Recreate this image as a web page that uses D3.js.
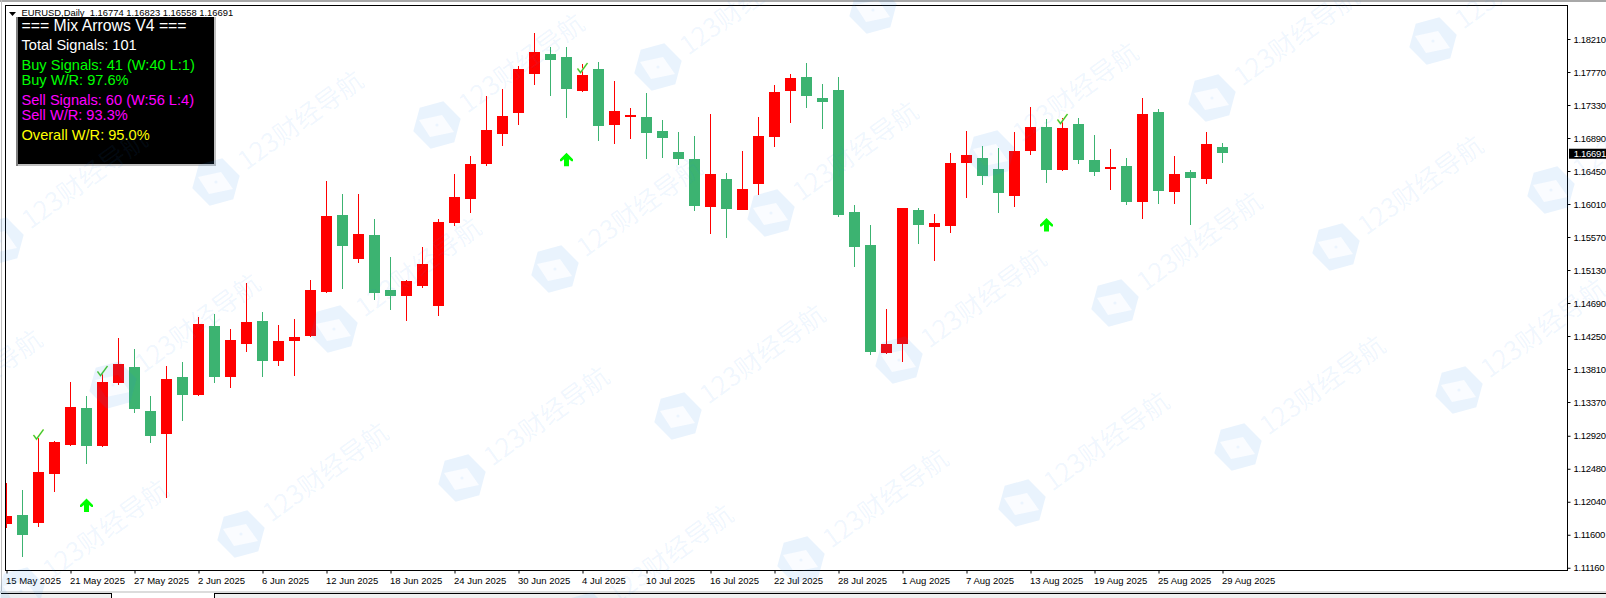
<!DOCTYPE html>
<html><head><meta charset="utf-8">
<style>html,body{margin:0;padding:0;background:#fff;overflow:hidden}svg{display:block}</style>
<script src="https://cdn.jsdelivr.net/npm/d3@7/dist/d3.min.js"></script></head><body><div id="c"></div>
<script>
const opens=[1.11743,1.11863,1.11757,1.1241,1.12797,1.1329,1.12783,1.13623,1.13837,1.1325,1.12943,1.13703,1.13463,1.14383,1.13703,1.14143,1.1445,1.13917,1.14183,1.1425,1.14837,1.15863,1.15277,1.15597,1.14863,1.14783,1.14917,1.1465,1.15757,1.16077,1.16543,1.16943,1.17223,1.17743,1.1801,1.1797,1.17517,1.1781,1.17063,1.1717,1.1717,1.16983,1.16703,1.1661,1.1597,1.16343,1.1593,1.16277,1.16903,1.17517,1.17703,1.17423,1.1753,1.15903,1.15463,1.14023,1.14143,1.1593,1.15703,1.15717,1.16557,1.16623,1.16477,1.16117,1.16717,1.17037,1.16463,1.17077,1.16597,1.16477,1.16517,1.16037,1.17237,1.1617,1.16437,1.16343,1.16774];
const highs=[1.12286,1.12197,1.12886,1.1285,1.13637,1.1345,1.13757,1.14223,1.14077,1.1345,1.1385,1.13903,1.14503,1.14543,1.14343,1.14957,1.1457,1.14397,1.14477,1.14997,1.16317,1.16143,1.16143,1.1581,1.15303,1.14997,1.15437,1.1581,1.1641,1.1665,1.1745,1.17543,1.1785,1.1829,1.18103,1.18103,1.17877,1.17903,1.1765,1.1729,1.1749,1.1713,1.1697,1.16917,1.1721,1.16423,1.16717,1.1717,1.17597,1.17743,1.1789,1.1761,1.17703,1.15997,1.1573,1.1461,1.15957,1.15957,1.15877,1.1669,1.16983,1.16783,1.16757,1.1697,1.17303,1.17143,1.17157,1.17157,1.1693,1.16743,1.16623,1.17423,1.17277,1.1665,1.16463,1.1697,1.16823];
const lows=[1.11694,1.11307,1.11707,1.1217,1.12783,1.12543,1.1277,1.13597,1.13223,1.12823,1.1209,1.13117,1.1345,1.13623,1.13557,1.14037,1.13703,1.1385,1.13717,1.14237,1.14823,1.14877,1.15223,1.1473,1.14597,1.1445,1.1489,1.14517,1.15717,1.1589,1.16517,1.16783,1.17063,1.17597,1.1745,1.17157,1.17503,1.1685,1.1681,1.16877,1.1661,1.16623,1.1653,1.15917,1.1561,1.15557,1.1593,1.1613,1.1677,1.1709,1.1729,1.1701,1.15837,1.1517,1.13997,1.1401,1.13903,1.15477,1.1525,1.15623,1.1609,1.16263,1.1589,1.1597,1.16663,1.1629,1.1645,1.16543,1.16383,1.16197,1.15997,1.1581,1.1601,1.1601,1.1573,1.16277,1.16558];
const closes=[1.1185,1.11597,1.12437,1.12837,1.13303,1.12783,1.13637,1.13877,1.13277,1.12917,1.13677,1.13463,1.1441,1.13703,1.14197,1.14437,1.13917,1.14183,1.14237,1.14863,1.1585,1.1545,1.1561,1.14823,1.14783,1.14983,1.1521,1.1577,1.16103,1.16543,1.16997,1.17183,1.1781,1.18037,1.1793,1.17543,1.1773,1.1705,1.1725,1.17197,1.16957,1.1689,1.1661,1.15983,1.1641,1.15943,1.1621,1.16917,1.17503,1.1769,1.1745,1.1737,1.15863,1.15437,1.14037,1.14143,1.15957,1.1573,1.15757,1.16557,1.16663,1.16383,1.16157,1.16717,1.17037,1.16463,1.17023,1.16597,1.16437,1.16503,1.16037,1.1721,1.16183,1.1641,1.16357,1.1681,1.16691];
const dateLabels=["15 May 2025","21 May 2025","27 May 2025","2 Jun 2025","6 Jun 2025","12 Jun 2025","18 Jun 2025","24 Jun 2025","30 Jun 2025","4 Jul 2025","10 Jul 2025","16 Jul 2025","22 Jul 2025","28 Jul 2025","1 Aug 2025","7 Aug 2025","13 Aug 2025","19 Aug 2025","25 Aug 2025","29 Aug 2025"];
const priceTicks=[1.1821,1.1777,1.1733,1.1689,1.1645,1.1601,1.1557,1.1513,1.1469,1.1425,1.1381,1.1337,1.1292,1.1248,1.1204,1.116,1.1116];
const arrowIdx=[5,35,65];
const arrowPrice=[1.1199,1.1660,1.1573];
const checkIdx=[2,6,36,66];
const checkPrice=[1.12937,1.13783,1.17823,1.17143];
const panelLines=["=== Mix Arrows V4 ===","Total Signals: 101","Buy Signals: 41 (W:40 L:1)","Buy W/R: 97.6%","Sell Signals: 60 (W:56 L:4)","Sell W/R: 93.3%","Overall W/R: 95.0%"];
const panelColors=["#fff","#fff","#00ff00","#00ff00","#ff00ff","#ff00ff","#ffff00"];
const panelBase=[31,50,70,85,105,120,140];
const headerText="EURUSD,Daily  1.16774 1.16823 1.16558 1.16691";
const lastPrice=1.16691;
const wmRowA=[[873,10],[658,67],[437,125],[216,182],[0,241]];
const wmRowB=[[1433,41],[1212,98],[991,154],[771,213],[555,269],[334,329],[113,385],[-105,441]];
const wmRowC=[[1551,190],[1336,247],[1115,303],[899,360],[678,416],[462,478],[241,534],[21,591]];
const wmRowD=[[1459,390],[1238,447],[1022,503],[801,560],[586,616]];
const W=1606,H=598;
const svg=d3.select("#c").append("svg").attr("width",W).attr("height",H);
const L=5.5,R=1567.5,T=5.5,B=570.5;
const x=d3.scaleLinear().domain([0,76]).range([6.5,1222.5]);
const y=d3.scaleLinear().domain([1.1821,1.1116]).range([39,567.75]);
const clipId="plot";
svg.append("defs").append("clipPath").attr("id",clipId).append("rect").attr("x",L).attr("y",T).attr("width",R-L).attr("height",B-T);
// window chrome
svg.append("rect").attr("x",0).attr("y",0).attr("width",W).attr("height",2).attr("fill","#a8a8a8");
svg.append("rect").attr("x",1).attr("y",0).attr("width",1).attr("height",591).attr("fill","#c0c0c0");
// tab strip
svg.append("rect").attr("x",0).attr("y",591).attr("width",W).attr("height",2).attr("fill","#dcdcdc");
svg.append("rect").attr("x",1).attr("y",593).attr("width",111).attr("height",5).attr("fill","#f0f0f0");
svg.append("rect").attr("x",214).attr("y",593).attr("width",W-214).attr("height",5).attr("fill","#f0f0f0");
svg.append("line").attr("x1",1).attr("x2",112).attr("y1",593.5).attr("y2",593.5).attr("stroke","#000");
svg.append("line").attr("x1",214).attr("x2",W).attr("y1",593.5).attr("y2",593.5).attr("stroke","#000");
svg.append("line").attr("x1",111.5).attr("x2",111.5).attr("y1",593).attr("y2",598).attr("stroke","#000");
svg.append("line").attr("x1",214.5).attr("x2",214.5).attr("y1",593).attr("y2",598).attr("stroke","#000");
const plot=svg.append("g").attr("clip-path",`url(#${clipId})`);
const idx=d3.range(opens.length);
const col=i=>closes[i]>=opens[i]?"#ff0000":"#3cb371";
plot.selectAll(".wick").data(idx).join("line").attr("class","wick")
 .attr("x1",i=>x(i)).attr("x2",i=>x(i)).attr("y1",i=>Math.round(y(highs[i]))).attr("y2",i=>Math.round(y(lows[i])))
 .attr("stroke",col).attr("stroke-width",1).attr("shape-rendering","crispEdges");
plot.selectAll(".body").data(idx).join("rect").attr("class","body")
 .attr("x",i=>x(i)-5.5).attr("width",11)
 .attr("y",i=>Math.round(y(Math.max(opens[i],closes[i]))))
 .attr("height",i=>Math.max(2,Math.round(y(Math.min(opens[i],closes[i])))-Math.round(y(Math.max(opens[i],closes[i])))))
 .attr("fill",col).attr("shape-rendering","crispEdges");
// arrows
const arrowPath="M0,-7 L6.5,-0.5 L6.5,1.5 L5,1.5 L2.5,-0.5 L2.5,6.5 L-2.5,6.5 L-2.5,-0.5 L-5,1.5 L-6.5,1.5 L-6.5,-0.5 Z";
plot.selectAll(".arrow").data(arrowIdx).join("path").attr("class","arrow")
 .attr("d",arrowPath).attr("transform",(d,k)=>`translate(${x(d)},${y(arrowPrice[k])})`).attr("fill","#00ff00");
// checks
const checkPath="M-5,0.5 L-2,4.5 L5,-5";
plot.selectAll(".checkY").data(checkIdx).join("path").attr("class","checkY")
 .attr("d",checkPath).attr("fill","none").attr("stroke","#d8f07a").attr("stroke-width",2)
 .attr("transform",(d,k)=>`translate(${x(d)},${y(checkPrice[k])})`);
plot.selectAll(".check").data(checkIdx).join("path").attr("class","check")
 .attr("d",checkPath).attr("fill","none").attr("stroke","#22c03a").attr("stroke-width",1.1)
 .attr("transform",(d,k)=>`translate(${x(d)},${y(checkPrice[k])})`);
// axes
const MT="'Liberation Sans',Arial,sans-serif";
const yAxis=d3.axisRight(y).tickValues(priceTicks).tickSize(3).tickPadding(3).tickFormat(d3.format(".5f"));
const yG=svg.append("g").attr("transform",`translate(${R},0)`).call(yAxis);
yG.select(".domain").remove();
yG.selectAll(".tick line").attr("stroke","#000");
yG.selectAll("text").attr("font-family",MT).attr("font-size",9.5).attr("letter-spacing",-0.3).attr("fill","#000");
const xT=d3.scaleOrdinal().domain(dateLabels).range(dateLabels.map((d,i)=>x(i*4)));
const xAxis=d3.axisBottom(xT).tickSize(3);
const xG=svg.append("g").attr("transform",`translate(0,${B})`).call(xAxis);
xG.select(".domain").remove();
xG.selectAll(".tick line").attr("stroke","#000");
xG.selectAll("text").attr("font-family",MT).attr("font-size",9.5).attr("fill","#000").attr("text-anchor","start").attr("x",-1).attr("y",13).attr("dy",0);
svg.append("rect").attr("x",L).attr("y",T).attr("width",R-L).attr("height",B-T).attr("fill","none").attr("stroke","#000");
// last price label
svg.append("rect").attr("x",1569).attr("y",y(lastPrice)-4.2).attr("width",37).attr("height",10).attr("fill","#000");
svg.append("text").attr("x",1573.7).attr("y",y(lastPrice)+4.4).attr("font-family",MT).attr("font-size",9.5).attr("letter-spacing",-0.3).attr("fill","#fff").text(d3.format(".5f")(lastPrice));
// header
svg.append("path").attr("d","M9,12 L16,12 L12.5,16 Z").attr("fill","#000");
svg.append("text").attr("x",21.5).attr("y",16).attr("xml:space","preserve").attr("font-family",MT).attr("font-size",9.4).attr("fill","#000").text(headerText);
// panel
svg.append("rect").attr("x",16).attr("y",17).attr("width",200).attr("height",149).attr("fill","#c0c0c0");
svg.append("rect").attr("x",16).attr("y",17).attr("width",2).attr("height",149).attr("fill","#808080");
svg.append("rect").attr("x",18).attr("y",17).attr("width",196).attr("height",147).attr("fill","#000");
svg.selectAll(".pl").data(panelLines).join("text").attr("class","pl").attr("x",21.5).attr("y",(d,i)=>panelBase[i])
 .attr("font-family","'Liberation Sans',Arial,sans-serif").attr("font-size",(d,i)=>i==0?15.8:14.6).attr("fill",(d,i)=>panelColors[i]).text(d=>d);
// watermarks
const wm=svg.append("g").attr("fill","#2a8cf0").style("pointer-events","none");
const hex=d3.range(6).map(k=>{const a=(k*60-15)*Math.PI/180;return [24.5*Math.cos(a),24.5*Math.sin(a)];});
const hexPath="M"+hex.join("L")+"Z";
const diamond="M-18,-5 L5,-10 L17,7 L-7,12 Z";
[...wmRowA,...wmRowB,...wmRowC,...wmRowD].forEach(p=>{
 const g=wm.append("g").attr("transform",`translate(${p[0]},${p[1]})`);
 g.append("path").attr("d",hexPath+" "+diamond).attr("fill-rule","evenodd").attr("fill-opacity",0.1);
 g.append("path").attr("d",diamond).attr("fill-opacity",0.025);
 g.append("circle").attr("r",1.6).attr("fill-opacity",0.07);
 g.append("text").attr("transform","rotate(-36)").attr("x",31).attr("y",9).attr("font-family","'Noto Sans CJK SC','Noto Sans',sans-serif").attr("font-size",26).attr("fill-opacity",0.07).text("123财经导航");
});
</script></body></html>
